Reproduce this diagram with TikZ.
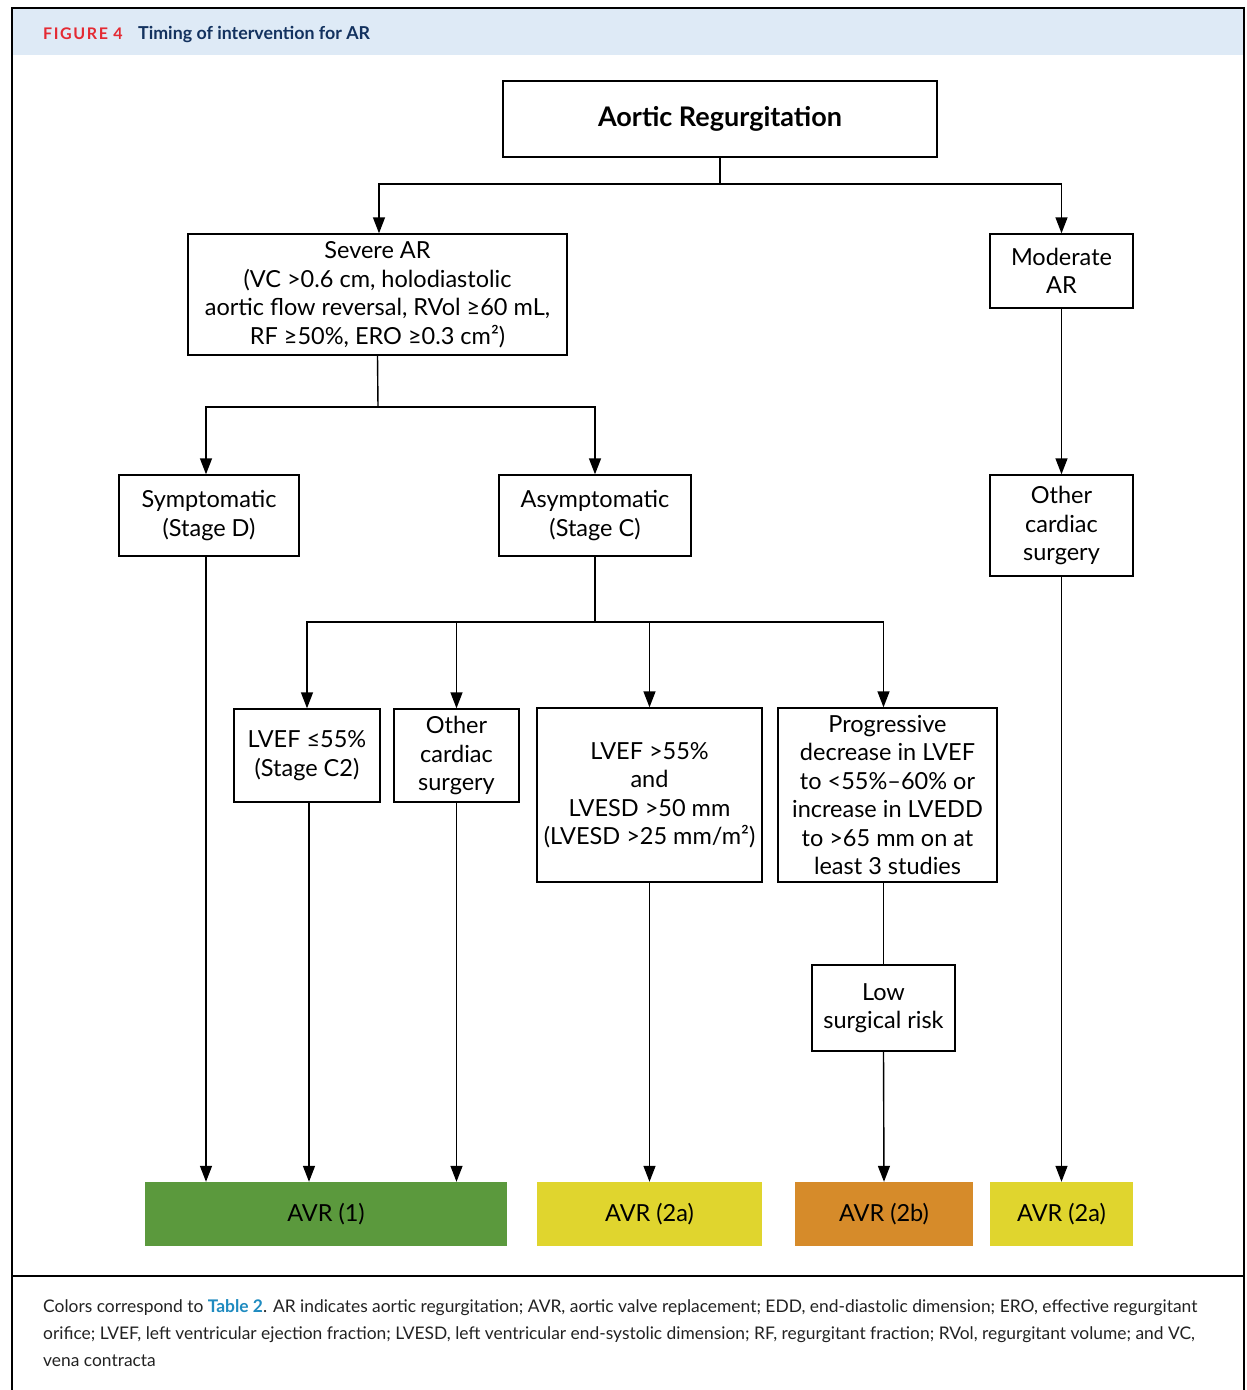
\documentclass[tikz,border=0pt]{standalone}
\usepackage{fontspec}
\setmainfont{Lato}
\usetikzlibrary{arrows.meta}
\definecolor{hdr}{HTML}{DEEAF6}
\definecolor{figred}{HTML}{E42A33}
\definecolor{navy}{HTML}{13325F}
\definecolor{tbl}{HTML}{1F8BC0}
\definecolor{cgreen}{HTML}{5B993D}
\definecolor{cyellow}{HTML}{E0D52E}
\definecolor{corange}{HTML}{D68B2A}
\definecolor{captxt}{HTML}{222222}
\begin{document}
\begin{tikzpicture}[x=1pt,y=-1pt,
  box/.style={draw, line width=1.4pt, inner sep=0pt, align=center,
    font=\fontsize{23.5}{28.5}\selectfont},
  avr/.style={inner sep=0pt, minimum height=64pt, font=\fontsize{23.5}{28}\selectfont},
  conn/.style={line width=1.4pt},
  arr/.style={line width=1.4pt, -{Triangle[width=12pt,length=16pt]}},
  capline/.style={anchor=base west, inner sep=0pt, text=captxt, font=\fontsize{17.4}{20}\selectfont}]
\useasboundingbox (0,0) rectangle (1247,1390);
\fill[white] (0,0) rectangle (1247,1390);
\fill[hdr] (12,8) rectangle (1244,55);
\draw[line width=1.5pt] (12,1390) -- (12,8) -- (1244,8) -- (1244,1390);
\draw[line width=1.5pt] (12,1276) -- (1244,1276);
% header
\node[anchor=base west, inner sep=0pt, text=figred, font=\bfseries\fontsize{16}{18}\selectfont\addfontfeature{LetterSpace=10}] (fig) at (43,39) {FIGURE 4};
\node[anchor=base west, inner sep=0pt, text=navy, font=\bfseries\fontsize{17.8}{18}\selectfont] (ttl) at (138,39) {Timing of intervention for AR};
% boxes
\node[box, minimum width=434pt, minimum height=76pt, font=\bfseries\fontsize{27}{30}\selectfont] (ar) at (720,119) {Aortic Regurgitation};
\node[box, minimum width=379pt, minimum height=121pt] (sev) at (377.5,294.5) {Severe AR\\(VC >0.6 cm, holodiastolic\\aortic flow reversal, RVol ≥60 mL,\\RF ≥50\%, ERO ≥0.3 cm²)};
\node[box, minimum width=143pt, minimum height=74pt] (mod) at (1061.5,271) {Moderate\\AR};
\node[box, minimum width=180pt, minimum height=81pt] (sym) at (209,515.5) {Symptomatic\\(Stage D)};
\node[box, minimum width=192pt, minimum height=81pt] (asym) at (595,515.5) {Asymptomatic\\(Stage C)};
\node[box, minimum width=143pt, minimum height=101pt] (ocs1) at (1061.5,525.5) {Other\\cardiac\\surgery};
\node[box, minimum width=146pt, minimum height=93pt] (lvef1) at (307,755.5) {LVEF ≤55\%\\(Stage C2)};
\node[box, minimum width=125pt, minimum height=93pt] (ocs2) at (456.5,755.5) {Other\\cardiac\\surgery};
\node[box, minimum width=225pt, minimum height=174pt] (lvef2) at (649.5,795) {LVEF >55\%\\and\\LVESD >50 mm\\(LVESD >25 mm/m²)};
\node[box, minimum width=219pt, minimum height=174pt] (prog) at (887.5,795) {Progressive\\decrease in LVEF\\to <55\%–60\% or\\increase in LVEDD\\to >65 mm on at\\least 3 studies};
\node[box, minimum width=143pt, minimum height=86pt] (low) at (883.5,1008) {Low\\surgical risk};
% outcome boxes
\node[avr, fill=cgreen, minimum width=362pt] (g) at (326,1214) {AVR (1)};
\node[avr, fill=cyellow, minimum width=225pt] (y1) at (649.5,1214) {AVR (2a)};
\node[avr, fill=corange, minimum width=178pt] (o) at (884,1214) {AVR (2b)};
\node[avr, fill=cyellow, minimum width=143pt] (y2) at (1061.5,1214) {AVR (2a)};
% connectors
\coordinate (j1) at (720,184);
\draw[conn] (ar.south) -- (j1);
\draw[arr] (j1) -| ([xshift=1.5pt]sev.north);
\draw[arr] (j1) -| (mod.north);
\coordinate (j2) at (378,407);
\draw[conn] (sev.south) -- (j2);
\draw[arr] (j2) -| ([xshift=-3pt]sym.north);
\draw[arr] (j2) -| (asym.north);
\draw[arr] (mod.south) -- (ocs1.north);
\coordinate (j3) at (595,622);
\draw[conn] (asym.south) -- (j3);
\draw[arr] (j3) -| (lvef1.north);
\draw[arr] (j3) -| (ocs2.north);
\draw[arr] (j3) -| (lvef2.north);
\draw[arr] (j3) -| (prog.north -| low.north);
\draw[conn] (prog.south -| low.north) -- (low.north);
\draw[arr] ([xshift=-3pt]sym.south) -- ([xshift=-3pt]sym.south |- g.north);
\draw[arr] ([xshift=2pt]lvef1.south) -- ([xshift=2pt]lvef1.south |- g.north);
\draw[arr] (ocs2.south) -- (ocs2.south |- g.north);
\draw[arr] (lvef2.south) -- (y1.north);
\draw[arr] (low.south) -- (o.north);
\draw[arr] (ocs1.south) -- (y2.north);
% caption
\node[capline] (c1) at (43,1312) {Colors correspond to \textcolor{tbl}{\textbf{Table 2}}. AR indicates aortic regurgitation; AVR, aortic valve replacement; EDD, end-diastolic dimension; ERO, effective regurgitant};
\node[capline] (c2) at (43,1339) {orifice; LVEF, left ventricular ejection fraction; LVESD, left ventricular end-systolic dimension; RF, regurgitant fraction; RVol, regurgitant volume; and VC,};
\node[capline] (c3) at (43,1366) {vena contracta};
\end{tikzpicture}
\end{document}
